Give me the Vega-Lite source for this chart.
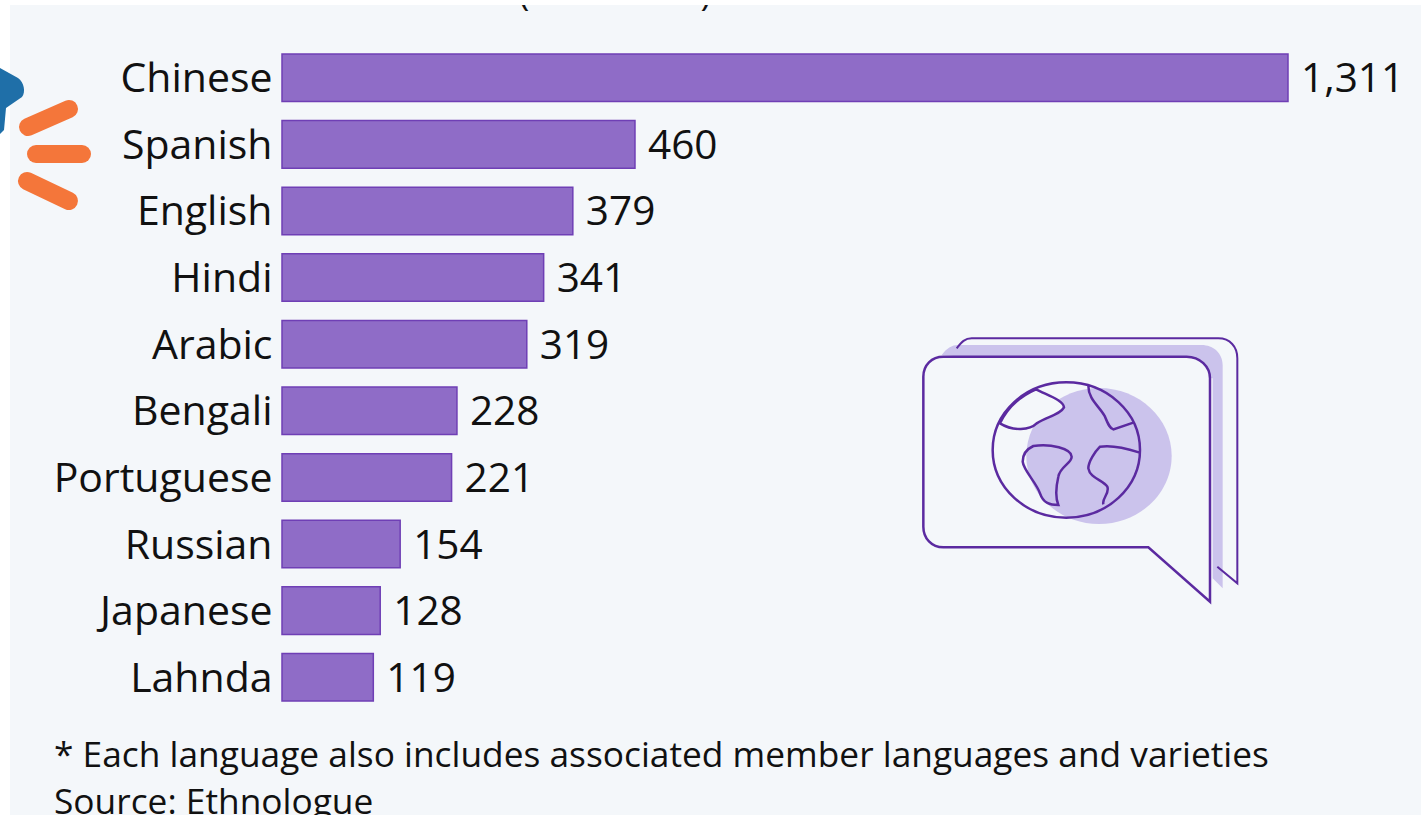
{
"$schema":"https://vega.github.io/schema/vega-lite/v6.json",
"width":1411,"height":810,"padding":{"left":10,"top":5,"right":0,"bottom":0},
"autosize":{"type":"none"},"background":"white",
"view":{"fill":"#f4f7fa","stroke":null},
"datasets":{
"languages":[{"language":"Chinese","speakers":1311},{"language":"Spanish","speakers":460},{"language":"English","speakers":379},{"language":"Hindi","speakers":341},{"language":"Arabic","speakers":319},{"language":"Bengali","speakers":228},{"language":"Portuguese","speakers":221},{"language":"Russian","speakers":154},{"language":"Japanese","speakers":128},{"language":"Lahnda","speakers":119}],
"dashes":[{"a":28,"b":127,"a2":69,"b2":109},{"a":36,"b":154,"a2":82,"b2":154},{"a":27,"b":181,"a2":69,"b2":201}],
"notes":[{"a":54,"b":767,"note":"* Each language also includes associated member languages and varieties"},{"a":54,"b":814,"note":"Source: Ethnologue"}],
"icon":[{"a":1080,"b":470}],
"star":[{"a":0,"b":100}]
},
"resolve":{"scale":{"x":"independent","y":"independent"}},
"layer":[
{"data":{"name":"icon"},"mark":{"type":"text","text":"(in millions)","font":"Open Sans","fontSize":36,"color":"#111","clip":true,"align":"center","baseline":"alphabetic"},
 "encoding":{"x":{"datum":615,"type":"quantitative","scale":{"domain":[10,1421],"range":[0,1411],"nice":false,"zero":false},"axis":null},"y":{"datum":4.5,"type":"quantitative","scale":{"domain":[5,815],"range":[0,810],"nice":false,"zero":false},"axis":null}}},
{"data":{"name":"languages"},"mark":{"type":"bar","fill":"#8f6cc7","stroke":"#6f3fb5","strokeWidth":1.5},
 "encoding":{"y":{"field":"language","type":"nominal","sort":null,"scale":{"type":"band","domain":["Chinese","Spanish","English","Hindi","Arabic","Bengali","Portuguese","Russian","Japanese","Lahnda"],"range":[49,696],"paddingInner":0.286,"paddingOuter":0},"axis":{"title":null,"offset":-272,"domain":false,"ticks":false,"labelPadding":10,"labelFont":"Open Sans","labelFontSize":41,"labelColor":"#111","labelLimit":400,"labelOffset":2.5}},
 "x":{"field":"speakers","type":"quantitative","scale":{"domain":[0,1311],"range":[272,1278],"nice":false},"axis":null}}},
{"data":{"name":"languages"},"mark":{"type":"text","align":"left","baseline":"middle","dx":13,"dy":2.5,"font":"Open Sans","fontSize":40.5,"color":"#111"},
 "encoding":{"y":{"field":"language","type":"nominal","sort":null,"scale":{"type":"band","domain":["Chinese","Spanish","English","Hindi","Arabic","Bengali","Portuguese","Russian","Japanese","Lahnda"],"range":[49,696],"paddingInner":0.286,"paddingOuter":0},"axis":null},
 "x":{"field":"speakers","type":"quantitative","scale":{"domain":[0,1311],"range":[272,1278],"nice":false},"axis":null},
 "text":{"field":"speakers","type":"quantitative","format":","}}},
{"data":{"name":"notes"},"mark":{"type":"text","align":"left","baseline":"alphabetic","font":"Open Sans","fontSize":35.3,"color":"#111"},
 "encoding":{"x":{"field":"a","type":"quantitative","scale":{"domain":[10,1421],"range":[0,1411],"nice":false,"zero":false},"axis":null},"y":{"field":"b","type":"quantitative","scale":{"domain":[5,815],"range":[0,810],"nice":false,"zero":false},"axis":null},"text":{"field":"note"}}},
{"data":{"name":"dashes"},"mark":{"type":"rule","stroke":"#f4763a","strokeWidth":18,"strokeCap":"round"},
 "encoding":{"x":{"field":"a","type":"quantitative","scale":{"domain":[10,1421],"range":[0,1411],"nice":false,"zero":false},"axis":null},"y":{"field":"b","type":"quantitative","scale":{"domain":[5,815],"range":[0,810],"nice":false,"zero":false},"axis":null},"x2":{"field":"a2"},"y2":{"field":"b2"}}},
{"data":{"name":"star"},"mark":{"type":"point","filled":true,"fill":"#1f6fa8","opacity":1,"size":4,"shape":"M0,-32 L18,-22 C24,-18 26,-8 22,-3 L6,8 L4,30 L0,34 Z"},
 "encoding":{"x":{"field":"a","type":"quantitative","scale":{"domain":[10,1421],"range":[0,1411],"nice":false,"zero":false},"axis":null},"y":{"field":"b","type":"quantitative","scale":{"domain":[5,815],"range":[0,810],"nice":false,"zero":false},"axis":null}}},
{"data":{"name":"icon"},"mark":{"type":"point","filled":true,"fill":"#cbc3ec","opacity":1,"size":0.4444,"shape":"M-415,-345 C-400,-365 -385,-375 -365,-375 L365,-375 C400,-375 428,-350 428,-315 L428,355 L398,325 L398,-275 Z"},
 "encoding":{"x":{"field":"a","type":"quantitative","scale":{"domain":[10,1421],"range":[0,1411],"nice":false,"zero":false},"axis":null},"y":{"field":"b","type":"quantitative","scale":{"domain":[5,815],"range":[0,810],"nice":false,"zero":false},"axis":null}}},
{"data":{"name":"icon"},"mark":{"type":"point","filled":false,"stroke":"#5b2aa0","strokeWidth":2,"opacity":1,"size":0.4444,"shape":"M-370,-365 C-355,-385 -345,-395 -325,-395 L415,-395 C450,-395 472,-370 472,-335 L472,340 L412,290"},
 "encoding":{"x":{"field":"a","type":"quantitative","scale":{"domain":[10,1421],"range":[0,1411],"nice":false,"zero":false},"axis":null},"y":{"field":"b","type":"quantitative","scale":{"domain":[5,815],"range":[0,810],"nice":false,"zero":false},"axis":null}}},
{"data":{"name":"icon"},"mark":{"type":"point","filled":true,"fill":"#f4f7fa","stroke":"#5b2aa0","strokeWidth":2.5,"opacity":1,"size":0.4444,"shape":"M205,232 L-410,232 C-445,232 -470,205 -470,170 L-470,-280 C-470,-315 -445,-340 -410,-340 L320,-340 C360,-340 390,-310 390,-275 L390,395 Z"},
 "encoding":{"x":{"field":"a","type":"quantitative","scale":{"domain":[10,1421],"range":[0,1411],"nice":false,"zero":false},"axis":null},"y":{"field":"b","type":"quantitative","scale":{"domain":[5,815],"range":[0,810],"nice":false,"zero":false},"axis":null}}},
{"data":{"name":"icon"},"mark":{"type":"point","filled":true,"fill":"#cbc3ec","opacity":1,"size":0.4444,"shape":"M-161,-42 A218,204 0 1 1 275,-42 A218,204 0 1 1 -161,-42 Z"},
 "encoding":{"x":{"field":"a","type":"quantitative","scale":{"domain":[10,1421],"range":[0,1411],"nice":false,"zero":false},"axis":null},"y":{"field":"b","type":"quantitative","scale":{"domain":[5,815],"range":[0,810],"nice":false,"zero":false},"axis":null}}},
{"data":{"name":"icon"},"mark":{"type":"point","filled":true,"fill":"#f4f7fa","stroke":"#5b2aa0","strokeWidth":2.5,"opacity":1,"size":0.4444,"shape":"M-240,-140 C-200,-115 -150,-120 -130,-140 C-100,-160 -60,-165 -48,-188 C-50,-210 -100,-225 -132,-242 A221,203 0 0 0 -240,-140 Z"},
 "encoding":{"x":{"field":"a","type":"quantitative","scale":{"domain":[10,1421],"range":[0,1411],"nice":false,"zero":false},"axis":null},"y":{"field":"b","type":"quantitative","scale":{"domain":[5,815],"range":[0,810],"nice":false,"zero":false},"axis":null}}},
{"data":{"name":"icon"},"mark":{"type":"point","filled":false,"stroke":"#5b2aa0","strokeWidth":2.5,"opacity":1,"size":0.4444,"shape":"M-262,-60 A221,203 0 1 1 180,-60 A221,203 0 1 1 -262,-60 Z M25,-253 C25,-210 60,-190 75,-160 C85,-135 90,-125 100,-122 L160,-142 M-140,-72 C-90,-80 -25,-65 -25,-40 C-25,-20 -60,-10 -65,20 C-72,50 -75,80 -65,105 C-90,105 -110,100 -120,70 C-130,40 -170,0 -172,-25 C-172,-50 -155,-65 -140,-72 Z M177,-53 C140,-65 90,-75 60,-70 C45,-55 25,-25 25,-5 C30,25 70,30 82,50 C90,70 65,85 70,103"},
 "encoding":{"x":{"field":"a","type":"quantitative","scale":{"domain":[10,1421],"range":[0,1411],"nice":false,"zero":false},"axis":null},"y":{"field":"b","type":"quantitative","scale":{"domain":[5,815],"range":[0,810],"nice":false,"zero":false},"axis":null}}}
]
}
